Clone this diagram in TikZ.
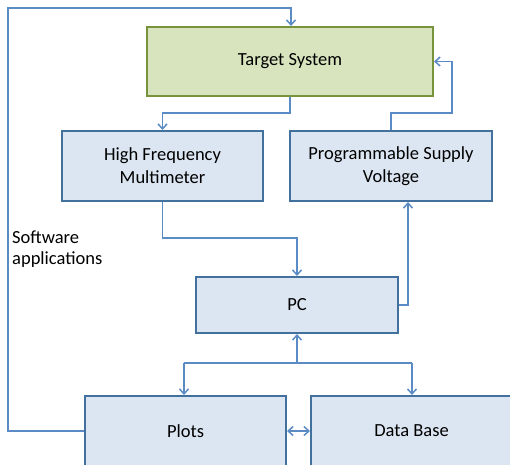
\documentclass[tikz,border=0pt]{standalone}
\usepackage{fontspec}
\setmainfont{Carlito}
\usetikzlibrary{arrows.meta}
\definecolor{bfill}{HTML}{DCE6F2}
\definecolor{bdraw}{HTML}{41719C}
\definecolor{gfill}{HTML}{D7E4BD}
\definecolor{gdraw}{HTML}{77933C}
\definecolor{conn}{HTML}{5B8BC5}
\tikzset{
  bbox/.style={draw=bdraw, fill=bfill, line width=2pt, minimum width=201pt, minimum height=70pt, inner sep=0pt, align=center, font=\fontsize{18.5}{23}\selectfont},
  gbox/.style={bbox, draw=gdraw, fill=gfill},
  cn/.style={draw=conn, line width=1.5pt, -{Straight Barb[length=5pt,width=9pt]}},
  cnb/.style={draw=conn, line width=1.5pt, {Straight Barb[length=5pt,width=9pt]}-{Straight Barb[length=5pt,width=9pt]}},
  ln/.style={draw=conn, line width=1.5pt}
}
\begin{document}
\begin{tikzpicture}[x=1pt,y=-1pt]
\useasboundingbox (0,0) rectangle (510,464);
\clip (0,0) rectangle (510,464);
\node[gbox, minimum width=286pt, minimum height=69pt] (target) at (290,61.5) {Target System};
\node[bbox] (multi) at (162.5,166) {High Frequency\\Multimeter};
\node[bbox, minimum width=202pt] (prog) at (391,166) {Programmable Supply\\Voltage};
\node[bbox, minimum width=202pt, minimum height=56pt] (pc) at (297,305) {PC};
\node[bbox] (plots) at (185.5,431) {Plots};
\node[bbox] (data) at (411.5,431) {Data Base};
\node[anchor=north west, align=left, inner sep=0pt, font=\fontsize{18.5}{21}\selectfont] (sw) at (12,231) {Software\\applications};
\coordinate (lb) at (8,431);
\coordinate (lt) at (8,8);
\coordinate (r1) at (452,113);
\coordinate (m1) at (162.5,238);
\coordinate (t1) at (290,113);
\coordinate (h0) at (297,363);
\coordinate (hl) at (184,363);
\coordinate (hr) at (412,363);
\draw[cn] (plots.west) -- (lb) -- (lt) -| ([xshift=1pt]target.north);
\draw[cn] (target.south) -- (t1) -| (multi.north);
\draw[cn] (prog.north) |- (r1) |- (target.east);
\draw[cn] (multi.south) -- (m1) -| (pc.north);
\draw[cn] (pc.east) -| ([xshift=17pt]prog.south);
\draw[cn] (h0) -- (pc.south);
\draw[ln] (hl) -- (hr);
\draw[cn] (hl) -- (hl |- plots.north);
\draw[cn] (hr) -- (hr |- data.north);
\draw[cnb] (plots.east) -- (data.west);
\end{tikzpicture}
\end{document}
